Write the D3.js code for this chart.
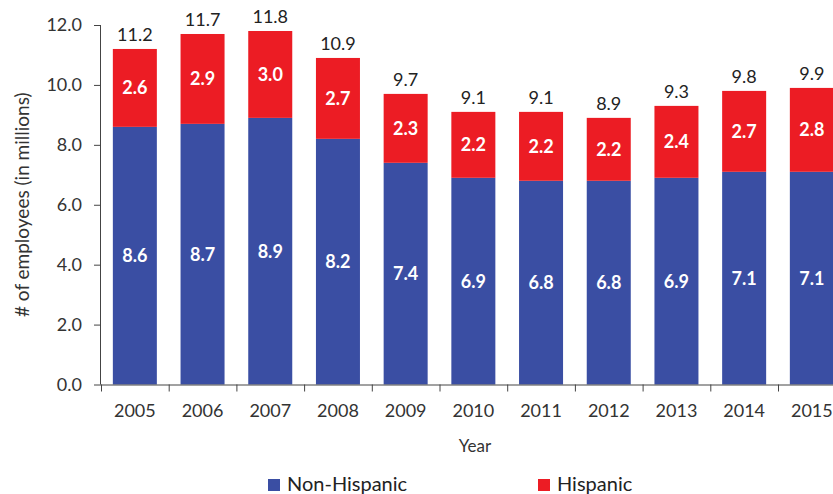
<!DOCTYPE html>
<html><head><meta charset="utf-8">
<script src="https://cdn.jsdelivr.net/npm/d3@7"></script>
<style>body{margin:0;background:#fff}svg{display:block}</style>
</head><body><svg id="c" width="833" height="494"></svg>
<script>
const years = ["2005","2006","2007","2008","2009","2010","2011","2012","2013","2014","2015"];
const nonHispanic = [8.6,8.7,8.9,8.2,7.4,6.9,6.8,6.8,6.9,7.1,7.1];
const hispanic = [2.6,2.9,3.0,2.7,2.3,2.2,2.2,2.2,2.4,2.7,2.8];
const totals = [11.2,11.7,11.8,10.9,9.7,9.1,9.1,8.9,9.3,9.8,9.9];
const yTicks = [0,2,4,6,8,10,12];

(function(){
const FONT = "Lato, 'Open Sans', sans-serif";
const BLUE = "#3A4EA3", RED = "#EC1C24";
const svg = d3.select("#c");
const left = 101, step = 67.7, plotTop = 25, plotBottom = 384.5;

const x = d3.scaleBand().domain(years).range([left, left + step*years.length]).paddingInner(0.35).paddingOuter(0.175);
const xb = d3.scaleBand().domain(years).range([left, left + step*years.length]).padding(0);
const y = d3.scaleLinear().domain([0,12]).range([plotBottom, plotTop]);

const g = svg.append("g");
years.forEach((yr,i)=>{
  g.append("rect").attr("x",x(yr)).attr("width",x.bandwidth())
    .attr("y",y(nonHispanic[i])).attr("height",y(0)-y(nonHispanic[i])).attr("fill",BLUE);
  g.append("rect").attr("x",x(yr)).attr("width",x.bandwidth())
    .attr("y",y(totals[i])).attr("height",y(nonHispanic[i])-y(totals[i])).attr("fill",RED);
  const cx = x(yr)+x.bandwidth()/2;
  g.append("text").attr("x",cx).attr("y",(y(0)+y(nonHispanic[i]))/2).attr("dy","0.36em")
    .attr("text-anchor","middle").attr("fill","#fff").attr("font-weight","bold")
    .attr("font-family",FONT).attr("font-size",18).text(nonHispanic[i].toFixed(1));
  g.append("text").attr("x",cx).attr("y",(y(nonHispanic[i])+y(totals[i]))/2).attr("dy","0.36em")
    .attr("text-anchor","middle").attr("fill","#fff").attr("font-weight","bold")
    .attr("font-family",FONT).attr("font-size",18).text(hispanic[i].toFixed(1));
  g.append("text").attr("x",cx).attr("y",y(totals[i])-8)
    .attr("text-anchor","middle").attr("fill","#222")
    .attr("font-family",FONT).attr("font-size",18).text(totals[i].toFixed(1));
});

const ya = svg.append("g").attr("transform",`translate(${left},0)`)
  .call(d3.axisLeft(y).tickValues(yTicks).tickFormat(d3.format(".1f")).tickSize(7).tickPadding(12));
ya.select(".domain").attr("stroke","#444").attr("d",`M-0.5,${plotTop}V${plotBottom}`);
ya.selectAll(".tick line").attr("stroke","#444");
ya.selectAll("text").attr("font-family",FONT).attr("font-size",18).attr("fill","#333");

const xa = svg.append("g").attr("transform",`translate(0,${plotBottom})`)
  .call(d3.axisBottom(xb).tickSize(0).tickPadding(20));
xa.select(".domain").attr("stroke","#444").attr("d",`M${left},0.5H${left+step*years.length}`);
xa.selectAll("text").attr("font-family",FONT).attr("font-size",18).attr("fill","#333");
years.forEach(yr=>{
  xa.append("line").attr("x1",xb(yr)+0.5).attr("x2",xb(yr)+0.5).attr("y1",0).attr("y2",7).attr("stroke","#444");
});

svg.append("text").attr("x",475).attr("y",452).attr("text-anchor","middle")
  .attr("font-family",FONT).attr("font-size",17).attr("fill","#333").text("Year");
svg.append("text").attr("transform",`translate(29,${(plotTop+plotBottom)/2}) rotate(-90)`)
  .attr("text-anchor","middle").attr("font-family",FONT).attr("font-size",19).attr("fill","#333")
  .text("# of employees (in millions)");

const legend = [{name:"Non-Hispanic",color:BLUE,x:268},{name:"Hispanic",color:RED,x:538}];
legend.forEach(l=>{
  svg.append("rect").attr("x",l.x).attr("y",479).attr("width",12).attr("height",12).attr("fill",l.color);
  svg.append("text").attr("x",l.x+19).attr("y",491).attr("font-family",FONT).attr("font-size",20)
    .attr("fill","#222").text(l.name);
});
})();
</script></body></html>
